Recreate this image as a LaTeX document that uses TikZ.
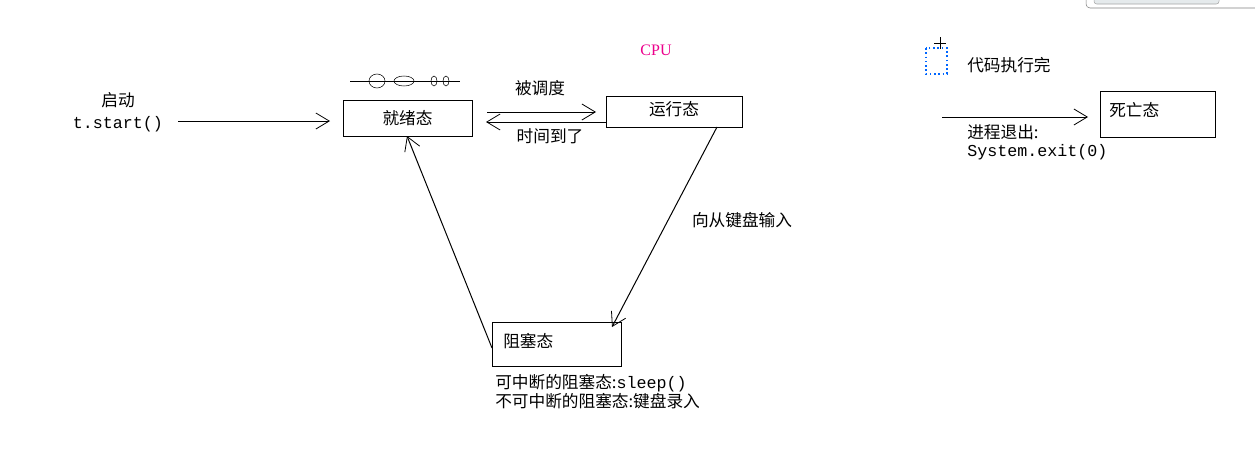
\documentclass[tikz,border=0pt]{standalone}
\usepackage{fontspec}
\setmainfont{Noto Sans CJK SC}
\setmonofont{Liberation Mono}
\newfontfamily\cpufont{Liberation Serif}
\usetikzlibrary{arrows.meta}

\begin{document}
\begin{tikzpicture}[x=0.75pt,y=0.75pt,yscale=-1,xscale=1,
  font=\fontsize{12.5}{15}\selectfont,
  state/.style={draw,line width=0.75pt},
  edge/.style={line width=0.75pt,-{Straight Barb[length=10pt,width=12pt,line width=0.6pt]}},
  lbl/.style={inner sep=0pt,anchor=west,align=left}]
\useasboundingbox (0,0) rectangle (1255,461);

%Shape: Rectangle [id:ready] 
\draw[state] (343,100) rectangle (472,136);
\node (ready) at (407.5,118) {就绪态};
%Shape: Rectangle [id:running] 
\draw[state] (606,96) rectangle (742,127);
\node (running) at (674,109) {运行态};
%Shape: Rectangle [id:dead] 
\draw[state] (1100,91) rectangle (1215,137);
\node[lbl] (dead) at (1109,110) {死亡态};
%Shape: Rectangle [id:blocked] 
\draw[state] (492,322) rectangle (621,366);
\node[lbl] (blocked) at (503,341) {阻塞态};

%Straight Lines [id:start] 
\coordinate (s0) at (178,121);
\coordinate (s1) at (330,121);
\draw[edge] (s0) -- (s1);
\node (lstart) at (118,100) {启动};
\node (lstartcode) at (118,124) {\ttfamily t.start()};

%Straight Lines [id:schedule] 
\coordinate (r0) at (487,112);
\coordinate (r1) at (596,112);
\draw[edge] (r0) -- (r1);
\node (lsched) at (540,88) {被调度};
%Straight Lines [id:timeout] 
\coordinate (t0) at (606,122);
\coordinate (t1) at (486,122);
\draw[edge] (t0) -- (t1);
\node (ltime) at (550,136) {时间到了};

\node[text=magenta] (cpu) at (656,50) {\cpufont\fontsize{12}{14}\selectfont CPU};

%Straight Lines [id:toblocked] 
\coordinate (b0) at (717,127);
\coordinate (b1) at (612,327);
\draw[edge] (b0) -- (b1);
\node (linput) at (742,220) {向从键盘输入};

%Straight Lines [id:toready] 
\coordinate (k0) at (492,348);
\coordinate (k1) at (407,136);
\draw[edge] (k0) -- (k1);

\node[lbl] (lblock1) at (495,383) {可中断的阻塞态:{\ttfamily sleep()}};
\node[lbl] (lblock2) at (495,401) {不可中断的阻塞态:键盘录入};

%Straight Lines [id:exit] 
\coordinate (e0) at (942,117);
\coordinate (e1) at (1088,117);
\draw[edge] (e0) -- (e1);
\node[lbl] (ldone) at (967,65) {代码执行完};
\node[lbl] (lexit) at (967,132) {进程退出:};
\node[lbl] (lexitcode) at (967,152) {\ttfamily System.exit(0)};

%Shape: queue symbol 
\draw (350,81) -- (460,81);
\draw (377,81) ellipse (8 and 7);
\draw (404,81) ellipse (10 and 5);
\draw (434,81) ellipse (3 and 5);
\draw (446,81) ellipse (3 and 5);

%Shape: dotted icon 
\draw[blue!60!cyan,dotted,line width=1.2pt] (926,48) rectangle (947,74);
\draw (940,37) -- (940,49) (934,43) -- (946,43);

%Shape: window edge 
\draw[gray,rounded corners=3pt] (1086,-6) rectangle (1262,8);
\draw[gray!70,fill=cyan!15!gray!20,rounded corners=2pt] (1094,-6) rectangle (1219,4);
\end{tikzpicture}
\end{document}
